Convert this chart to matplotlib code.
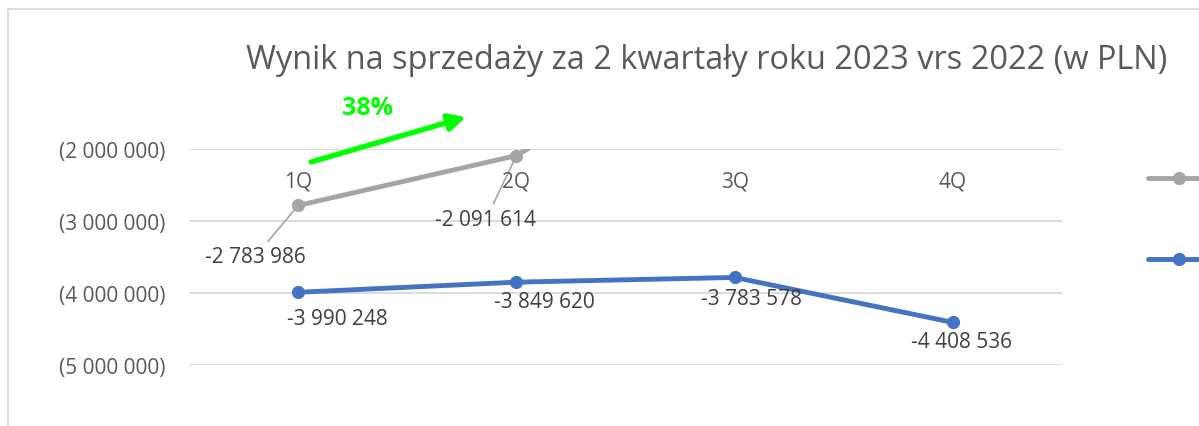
import matplotlib
matplotlib.use("Agg")
import numpy as np
import matplotlib.pyplot as plt
from matplotlib.patches import Rectangle
from matplotlib.ticker import FuncFormatter

# data
quarters = ["1Q", "2Q", "3Q", "4Q"]
wynik_2022 = [-2783986, -2091614, -300000, np.nan]   # 3Q runs off the top of the chart
wynik_2023 = [-3990248, -3849620, -3783578, -4408536]
y_ticks = [-2000000, -3000000, -4000000, -5000000]
growth_label = "38%"
title = "Wynik na sprzedaży za 2 kwartały roku 2023 vrs 2022 (w PLN)"

# label offsets (points) relative to each marker
offs_2022 = [(-31, -37), (-22, -46)]
offs_2023 = [(28, -19), (20, -14), (12, -15), (6.5, -14)]

plt.rcParams["font.family"] = ["Open Sans", "DejaVu Sans"]

GRAY = "#a5a5a5"
BLUE = "#4472c4"
TXT = "#595959"
LBL = "#404040"
GRID = "#d9d9d9"
FS = 15

W, H = 1199, 427
fig = plt.figure(figsize=(W / 100, H / 100), dpi=100)
ax = fig.add_axes([189 / W, 1 - 366 / H, 873 / W, 216 / H])

x = np.arange(len(quarters))
ax.plot(x, wynik_2022, color=GRAY, lw=3.5, marker="o", ms=8.5,
        solid_capstyle="round", zorder=3)
ax.plot(x, wynik_2023, color=BLUE, lw=3.5, marker="o", ms=8.5,
        solid_capstyle="round", zorder=3)

fmt = lambda v: f"{v:,.0f}".replace(",", " ")

for i, (dx, dy) in enumerate(offs_2022):
    ax.annotate(fmt(wynik_2022[i]), (x[i], wynik_2022[i]), xytext=(dx, dy),
                textcoords="offset points", ha="center", va="center",
                fontsize=FS, color=LBL,
                arrowprops=dict(arrowstyle="-", color=GRAY, lw=1.2,
                                shrinkA=2, shrinkB=4))
for i, (dx, dy) in enumerate(offs_2023):
    ax.annotate(fmt(wynik_2023[i]), (x[i], wynik_2023[i]), xytext=(dx, dy),
                textcoords="offset points", ha="center", va="center",
                fontsize=FS, color=LBL, zorder=4)

ax.set_xlim(-0.5, len(quarters) - 0.5)
ax.set_ylim(min(y_ticks), max(y_ticks))
ax.set_yticks(y_ticks)
ax.yaxis.set_major_formatter(FuncFormatter(lambda v, p: "(" + fmt(-v) + ")"))
ax.tick_params(axis="y", length=0, pad=17, labelsize=FS, labelcolor=TXT)
ax.set_xticks([])
ax.grid(axis="y", color=GRID, lw=1.3)
ax.set_axisbelow(True)
for s in ax.spines.values():
    s.set_visible(False)

# category labels sit just under the top of the plot area
for xi, q in zip(x, quarters):
    ax.text(xi, 0.852, q, transform=ax.get_xaxis_transform(),
            ha="center", va="center", fontsize=FS, color=TXT)

# growth arrow + label
ax.annotate("", xy=(0.3173, 1.148), xytext=(0.1398, 0.9398),
            xycoords="axes fraction", textcoords="axes fraction",
            annotation_clip=False,
            arrowprops=dict(arrowstyle="-|>,head_length=1.0,head_width=0.5",
                            color="#00ff00", lw=3.8, shrinkA=0, shrinkB=0))
ax.text(0.205, 1.194, growth_label, transform=ax.transAxes, ha="center",
        va="center", fontsize=18, fontweight="bold", color="#00ff00")

fig.text(707 / W, 1 - 61 / H, title, ha="center", va="center",
         fontsize=23.4, color=TXT)

# legend: only the line keys fit inside the crop, their names fall outside
leg_handles = [plt.Line2D([], [], color=c, lw=3.5, marker="o", ms=8.5,
                          solid_capstyle="round") for c in (GRAY, BLUE)]
fig.legend(leg_handles, ["", ""], loc="upper left",
           bbox_to_anchor=(1148 / W, 1 - 170 / H), frameon=False,
           borderpad=0, borderaxespad=0, handlelength=3.0,
           labelspacing=2.87, fontsize=FS)

# chart frame (only left and top edges fall inside the crop)
fig.add_artist(Rectangle((8 / W, -0.1), 1.5, 1.1 - 10 / H,
                         transform=fig.transFigure, fill=False,
                         ec=GRID, lw=1.3))

fig.savefig("out.png", dpi=100)
